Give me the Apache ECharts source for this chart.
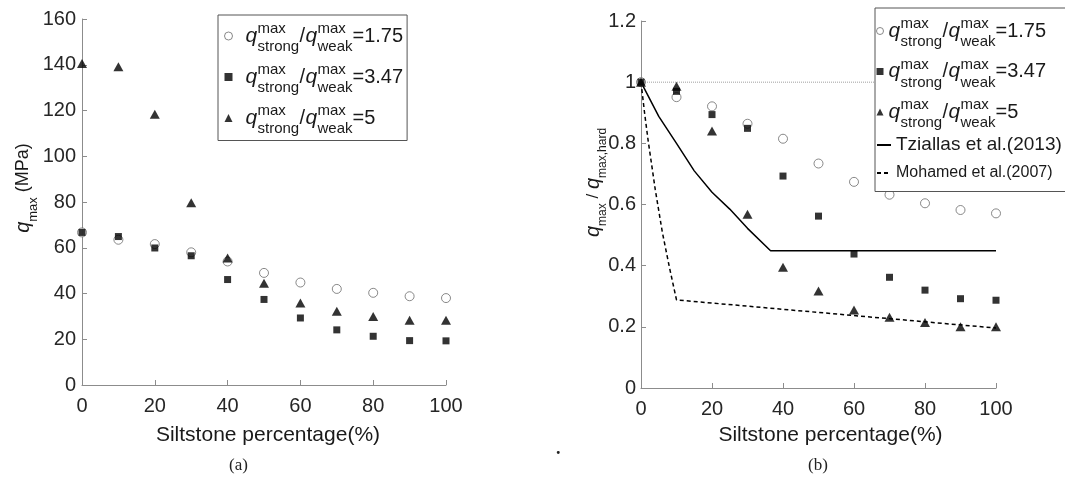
<!DOCTYPE html>
<html><head><meta charset="utf-8">
<script src="https://cdn.jsdelivr.net/npm/echarts/dist/echarts.min.js"></script>
<style>html,body{margin:0;padding:0;background:#fff}#c{width:1065px;height:481px}</style>
</head><body><div id="c"></div>
<script>
// ---- data ----
const siltPct = [0, 10, 20, 30, 40, 50, 60, 70, 80, 90, 100];
const qmax175 = [66.7, 63.5, 61.6, 58.0, 54.0, 49.0, 44.8, 42.0, 40.3, 38.8, 38.0];
const qmax347 = [66.7, 64.9, 59.9, 56.5, 46.1, 37.4, 29.3, 24.1, 21.3, 19.4, 19.3];
const qmax5   = [140.6, 139.1, 118.4, 79.7, 55.5, 44.5, 35.8, 32.2, 30.0, 28.3, 28.3];
const ratio175 = [1.0, 0.951, 0.921, 0.864, 0.815, 0.734, 0.674, 0.632, 0.604, 0.582, 0.571];
const ratio347 = [1.0, 0.970, 0.894, 0.849, 0.693, 0.562, 0.438, 0.362, 0.320, 0.292, 0.287];
const ratio5   = [1.0, 0.987, 0.840, 0.568, 0.395, 0.317, 0.255, 0.231, 0.214, 0.200, 0.200];
const tziallasX = [0, 5, 10, 15, 20, 25, 30, 36.5, 100];
const tziallasY = [1.0, 0.888, 0.80, 0.71, 0.64, 0.585, 0.522, 0.449, 0.449];
const mohamedX = [0, 1, 2, 4, 6, 8, 10, 100];
const mohamedY = [1.0, 0.9, 0.81, 0.65, 0.51, 0.395, 0.288, 0.196];
const refX = [0, 100];
const refY = [1, 1];
const xTicks = [0, 20, 40, 60, 80, 100];
const leftYTicks = [0, 20, 40, 60, 80, 100, 120, 140, 160];
const rightYTicks = [0, 0.2, 0.4, 0.6, 0.8, 1, 1.2];
const ratioLabels = ['1.75', '3.47', '5'];
const xName = 'Siltstone percentage(%)';
const tziallasName = 'Tziallas et al.(2013)';
const mohamedName = 'Mohamed et al.(2007)';

// ---- helpers ----
const FF = "'Liberation Sans', Arial, Helvetica, sans-serif";
const TXT = '#1a1a1a';
const AX = '#8c8c8c';
const zip = (xs, ys) => xs.map((x, i) => [x, ys[i]]);
const R = o => Object.assign({fontFamily: FF, color: TXT}, o);

function legendRich(lead) {
  return {
    p: R({width: lead, lineHeight: 1}),
    z: R({width: 1, lineHeight: 8, fontSize: 4}),
    a: R({width: 12, lineHeight: 6}),
    m1: R({width: 42, fontSize: 15, lineHeight: 6}),
    b: R({width: 18, lineHeight: 6}),
    m2: R({width: 35, fontSize: 15, lineHeight: 6}),
    q: R({width: 12, fontSize: 21, fontStyle: 'italic', lineHeight: 8}),
    c: R({width: 42, lineHeight: 8}),
    sl: R({width: 6, fontSize: 20, lineHeight: 8}),
    d: R({width: 35, lineHeight: 8}),
    v: R({fontSize: 20, lineHeight: 8}),
    a3: R({width: 12, lineHeight: 14}),
    s1: R({width: 42, fontSize: 15, lineHeight: 14}),
    b3: R({width: 18, lineHeight: 14}),
    s2: R({width: 35, fontSize: 15, lineHeight: 14})
  };
}
function ratioText(val) {
  const L = '{p| }';
  return [
    L + '{z| }',
    L + '{a| }{m1|max}{b| }{m2|max}',
    L + '{q|q}{c| }{sl|/}{q|q}{d| }{v|=' + val + '}',
    L + '{a3| }{s1|strong}{b3| }{s2|weak}'
  ].join('\n');
}
const leftNames = ['L175', 'L347', 'L5'];
const rightNames = ['R175', 'R347', 'R5'];
const nameToVal = {};
leftNames.forEach((n, i) => nameToVal[n] = ratioLabels[i]);
rightNames.forEach((n, i) => nameToVal[n] = ratioLabels[i]);

const circleStyle = {color: '#fff', borderColor: '#6b6b6b', borderWidth: 1};
const filledStyle = {color: '#000', borderWidth: 0};
const legendItems = names => names.map((n, i) => i === 0
  ? {name: n, itemStyle: {color: '#fff', borderColor: '#6b6b6b', borderWidth: 1}}
  : {name: n, itemStyle: {borderWidth: 0}});

function scatter(name, data, gi, kind) {
  const s = {type: 'scatter', name: name, xAxisIndex: gi, yAxisIndex: gi, data: data, z: 3};
  if (kind === 'c') { s.symbol = 'circle'; s.symbolSize = 9; s.itemStyle = circleStyle; }
  if (kind === 's') { s.symbol = 'rect'; s.symbolSize = 7; s.itemStyle = filledStyle; }
  if (kind === 't') { s.symbol = 'triangle'; s.symbolSize = [10, 9]; s.itemStyle = filledStyle; }
  return s;
}

function xAxisCfg(gi, gap, padLeft) {
  return {
    type: 'value', gridIndex: gi, min: xTicks[0], max: xTicks[xTicks.length - 1], interval: xTicks[1] - xTicks[0],
    axisLine: {show: true, onZero: false, lineStyle: {color: AX, width: 1}},
    axisTick: {show: true, inside: true, length: 5, lineStyle: {color: AX}},
    splitLine: {show: false},
    axisLabel: {fontSize: 20, color: '#262626', margin: 11, fontFamily: FF},
    name: xName, nameLocation: 'middle', nameGap: gap, nameMoveOverlap: false,
    nameTextStyle: {fontSize: 21, color: TXT, fontFamily: FF, lineHeight: 24, padding: [0, 0, 0, padLeft]}
  };
}
function yAxisCfg(gi, ticks, margin, name, rich, gap, padShift) {
  return {
    type: 'value', gridIndex: gi, min: ticks[0], max: ticks[ticks.length - 1], interval: ticks[1] - ticks[0],
    axisLine: {show: true, onZero: false, lineStyle: {color: AX, width: 1}},
    axisTick: {show: true, inside: true, length: 5, lineStyle: {color: AX}},
    splitLine: {show: false},
    axisLabel: {fontSize: 20, color: '#262626', margin: margin, fontFamily: FF},
    name: name, nameLocation: 'middle', nameRotate: 90, nameGap: gap, nameMoveOverlap: false,
    nameTextStyle: {color: TXT, fontFamily: FF, padding: [0, 0, 0, padShift], rich: rich}
  };
}
const yRichL = {
  q: R({fontSize: 20, fontStyle: 'italic', lineHeight: 30}),
  s: R({fontSize: 13, height: 10, lineHeight: 30, verticalAlign: 'bottom'}),
  n: R({fontSize: 18, lineHeight: 30})
};
const yRichR = {
  q: R({fontSize: 20, fontStyle: 'italic', lineHeight: 30}),
  s: R({fontSize: 12, height: 10, lineHeight: 30, verticalAlign: 'bottom'}),
  n: R({fontSize: 17, lineHeight: 30})
};

const chart = echarts.init(document.getElementById('c'), null, {renderer: 'canvas'});
const option = {
  animation: false,
  backgroundColor: '#fff',
  textStyle: {fontFamily: FF},
  grid: [
    {left: 82, right: 1065 - 446, top: 19, bottom: 481 - 385, outerBoundsMode: 'none', containLabel: false},
    {left: 641, right: 1065 - 996, top: 21, bottom: 481 - 388, outerBoundsMode: 'none', containLabel: false}
  ],
  xAxis: [xAxisCfg(0, 38, 8), xAxisCfg(1, 35, 24)],
  yAxis: [
    yAxisCfg(0, leftYTicks, 6, '{q|q}{s|max}{n| (MPa)}', yRichL, 44, 28),
    yAxisCfg(1, rightYTicks, 5, '{q|q}{s|max}{n| / }{q|q}{s|max,hard}', yRichR, 33, 44)
  ],
  legend: [
    {
      data: legendItems(leftNames), orient: 'vertical', left: 218, top: 15, selectedMode: false,
      itemWidth: 8, itemHeight: 8, itemGap: 2.5, padding: [1, 4, 4, 6],
      backgroundColor: '#fff', borderColor: '#555', borderWidth: 1, borderRadius: 0,
      formatter: n => ratioText(nameToVal[n]),
      textStyle: {color: TXT, fontFamily: FF, rich: legendRich(8)}
    },
    {
      data: legendItems(rightNames), orient: 'vertical', left: 875, top: 8, selectedMode: false, z: 5,
      itemWidth: 7, itemHeight: 7, itemGap: 2, padding: [3, 40, 61, 1],
      backgroundColor: '#fff', borderColor: '#555', borderWidth: 1, borderRadius: 0,
      formatter: n => ratioText(nameToVal[n]),
      textStyle: {color: TXT, fontFamily: FF, rich: legendRich(0.01)}
    },
    {
      data: [
        {name: tziallasName, textStyle: {fontSize: 19, lineHeight: 22}, itemStyle: {opacity: 0, color: 'rgba(0,0,0,0)', borderWidth: 0}},
        {name: mohamedName, textStyle: {fontSize: 16, lineHeight: 22}, itemStyle: {opacity: 0, color: 'rgba(0,0,0,0)', borderWidth: 0}}
      ],
      orient: 'vertical', left: 876, top: 134, selectedMode: false, z: 6,
      itemWidth: 14, itemHeight: 10, itemGap: 6, padding: 0,
      backgroundColor: 'transparent', borderWidth: 0,
      textStyle: {color: TXT, fontFamily: FF}
    }
  ],
  series: [
    scatter('L175', zip(siltPct, qmax175), 0, 'c'),
    scatter('L347', zip(siltPct, qmax347), 0, 's'),
    scatter('L5', zip(siltPct, qmax5), 0, 't'),
    {type: 'line', name: 'ref', xAxisIndex: 1, yAxisIndex: 1, data: zip(refX, refY), symbol: 'none', silent: true, z: 1,
      lineStyle: {color: '#a0a0a0', width: 1, type: 'dotted'}},
    {type: 'line', name: tziallasName, xAxisIndex: 1, yAxisIndex: 1, data: zip(tziallasX, tziallasY), symbol: 'none', z: 2,
      lineStyle: {color: '#000', width: 1.5, type: 'solid'}, itemStyle: {color: '#000'}},
    {type: 'line', name: mohamedName, xAxisIndex: 1, yAxisIndex: 1, data: zip(mohamedX, mohamedY), symbol: 'none', z: 2,
      lineStyle: {color: '#000', width: 1.5, type: [4, 3]}, itemStyle: {color: '#000'}},
    scatter('R175', zip(siltPct, ratio175), 1, 'c'),
    scatter('R347', zip(siltPct, ratio347), 1, 's'),
    scatter('R5', zip(siltPct, ratio5), 1, 't')
  ],
  graphic: [
    {type: 'text', left: 229, top: 457, style: {text: '(a)', font: "17px 'Liberation Serif', 'Times New Roman', serif", fill: '#222'}},
    {type: 'text', left: 808, top: 457, style: {text: '(b)', font: "17px 'Liberation Serif', 'Times New Roman', serif", fill: '#222'}},
    {type: 'text', left: 556, top: 440, style: {text: '.', font: "bold 18px 'Liberation Serif', serif", fill: '#222'}}
  ]
};
chart.setOption(option);
</script>
</body></html>
